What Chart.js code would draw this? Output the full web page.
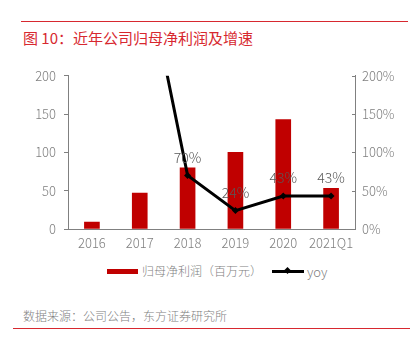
<!DOCTYPE html>
<html>
<head>
<meta charset="utf-8">
<script src="https://cdn.jsdelivr.net/npm/chart.js@4/dist/chart.umd.min.js"></script>
<style>
  body { margin: 0; width: 411px; height: 341px; background: #fff; position: relative; overflow: hidden;
         font-family: "Noto Sans CJK SC", "Noto Sans", sans-serif; }
  .rule { position: absolute; height: 1px; background: #d7282f; }
  #title { position: absolute; left: 23px; top: 27px; font-size: 15px; color: #d7282f; white-space: nowrap; }
  #wrap { position: absolute; left: 0; top: 60px; width: 411px; height: 194px; }
  #legend { position: absolute; top: 262px; left: 0; width: 411px; font-size: 12px; color: #7f7f7f; font-weight: 300; }
  .lg { position: absolute; white-space: nowrap; }
  #src { position: absolute; left: 23px; top: 307px; font-size: 12px; color: #7f7f7f; white-space: nowrap; font-weight: 300; }
</style>
</head>
<body>
<div class="rule" style="left:21px; width:387px; top:21px;"></div>
<div id="title">图 10：近年公司归母净利润及增速</div>
<div id="wrap"><canvas id="c"></canvas></div>
<div id="legend">
  <div class="lg" style="left:107px; top:7px; width:31px; height:5px; background:#c00000;"></div>
  <div class="lg" style="left:142px; top:0px;">归母净利润（百万元）</div>
  <div class="lg" style="left:272px; top:8px; width:32px; height:3px; background:#000;"></div>
  <div class="lg" style="left:285px; top:6px; width:5px; height:5px; background:#000; transform:rotate(45deg);"></div>
  <div class="lg" style="left:307px; top:0px; font-size:13px;">yoy</div>
</div>
<div id="src">数据来源：公司公告，东方证券研究所</div>
<div class="rule" style="left:13px; width:397px; top:328px;"></div>
<script>
// 数据
const categories = ['2016', '2017', '2018', '2019', '2020', '2021Q1'];
const profit = [9, 47, 80, 100, 143, 53];          // 归母净利润（百万元）
const yoy = [null, 377, 70, 24, 43, 43];            // 同比增速 %
const leftTicks = [0, 50, 100, 150, 200];
const rightTicks = [0, 50, 100, 150, 200];

const gray = '#7f7f7f';
const tickFont = { size: 13, weight: 300, family: '"Noto Sans CJK SC", sans-serif' };

// 数据标签（只画在图内的点）
const labelPlugin = {
  id: 'yoyLabels',
  afterDatasetsDraw(chart) {
    const ctx = chart.ctx;
    const meta = chart.getDatasetMeta(1);
    const area = chart.chartArea;
    ctx.save();
    ctx.font = '300 14px "Noto Sans CJK SC", sans-serif';
    ctx.fillStyle = '#595959';
    ctx.textAlign = 'center';
    ctx.textBaseline = 'middle';
    meta.data.forEach((pt, i) => {
      const v = yoy[i];
      if (v == null || pt.y < area.top) return;
      ctx.fillText(v + '%', pt.x, pt.y - 18);
    });
    ctx.restore();
  }
};

// 右轴刻度线朝内
const innerTicks = {
  id: 'innerTicks',
  afterDraw(chart) {
    const s = chart.scales.y1;
    const ctx = chart.ctx;
    ctx.save();
    ctx.strokeStyle = '#808080';
    ctx.lineWidth = 1;
    rightTicks.forEach(v => {
      const y = Math.round(s.getPixelForValue(v)) + 0.5;
      ctx.beginPath();
      ctx.moveTo(s.left - 3, y);
      ctx.lineTo(s.left, y);
      ctx.stroke();
    });
    ctx.restore();
  }
};

new Chart(document.getElementById('c'), {
  data: {
    labels: categories,
    datasets: [{
      type: 'bar',
      data: profit,
      yAxisID: 'y',
      backgroundColor: '#c00000',
      barThickness: 15,
      order: 2
    }, {
      type: 'line',
      data: yoy,
      yAxisID: 'y1',
      borderColor: '#000',
      borderWidth: 3,
      pointStyle: 'rectRot',
      pointRadius: 3.5,
      pointBackgroundColor: '#000',
      pointBorderWidth: 0,
      tension: 0,
      order: 1
    }]
  },
  options: {
    responsive: true,
    maintainAspectRatio: false,
    animation: false,
    layout: { padding: { top: 15, left: 0, right: 0, bottom: 0 } },
    plugins: { legend: { display: false }, tooltip: { enabled: false } },
    scales: {
      x: {
        offset: true,
        grid: { display: false, drawTicks: false },
        border: { color: '#808080', width: 1 },
        ticks: { color: gray, font: tickFont, padding: 6, maxRotation: 0 },
        afterFit(s) { s.height = 25; }
      },
      y: {
        position: 'left',
        min: 0, max: 200,
        afterBuildTicks(s) { s.ticks = leftTicks.map(v => ({ value: v })); },
        grid: { display: true, drawOnChartArea: false, tickLength: 4, color: '#808080' },
        border: { color: '#808080', width: 1 },
        ticks: { color: gray, font: tickFont, padding: 8 },
        afterFit(s) { s.width = 68; }
      },
      y1: {
        position: 'right',
        min: 0, max: 200,
        afterBuildTicks(s) { s.ticks = rightTicks.map(v => ({ value: v })); },
        grid: { display: false, drawTicks: false },
        border: { color: '#808080', width: 1 },
        ticks: { color: gray, font: tickFont, padding: 7, callback: v => v + '%' },
        afterFit(s) { s.width = 56; }
      }
    }
  },
  plugins: [labelPlugin, innerTicks]
});
</script>
</body>
</html>
